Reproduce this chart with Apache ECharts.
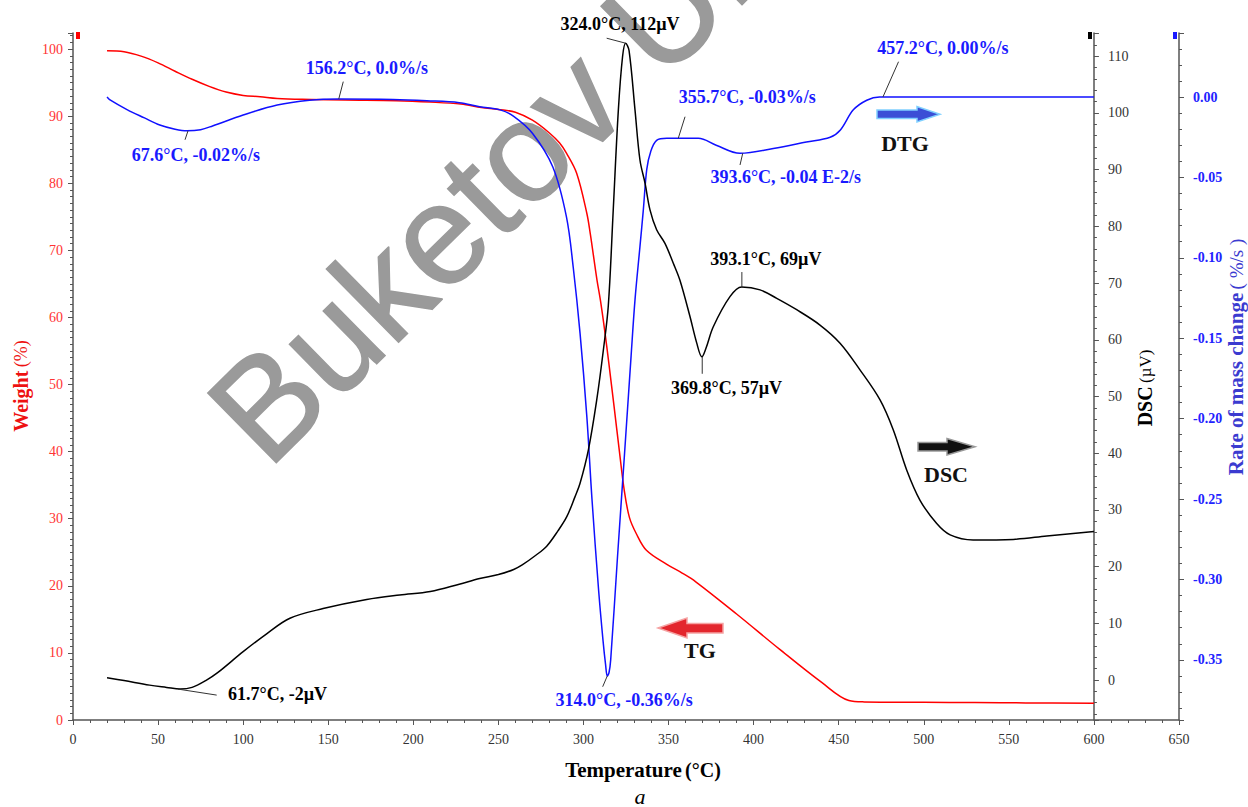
<!DOCTYPE html>
<html><head><meta charset="utf-8">
<script src="https://cdn.jsdelivr.net/npm/echarts@6/dist/echarts.min.js"></script>
<style>html,body{margin:0;padding:0;background:#fff}#c{width:1248px;height:807px}</style>
</head><body><div id="c"></div>
<script>
// ---------- DATA ----------
const tgTemp = [20,30,40,50,60,70,80,90,100,110,120,140,160,190,210,228,240,250,260,270,280,286,290,296,302,304,306,308,310,312.5,315,318,321,324,327,331,337,349,358,366,390,415,440,456,465,500,530,560,600];
const tgWeight = [99.75,99.6,98.95,97.95,96.7,95.5,94.45,93.6,93.1,92.9,92.65,92.5,92.4,92.3,92.1,91.8,91.3,91.0,90.6,89.4,87.5,86.0,84.5,81.5,75.5,72.5,69.0,65.5,62.5,58.0,53.0,46.7,40.3,34.2,30.2,27.8,25.3,23.2,21.9,20.6,15.8,10.6,5.6,2.9,2.7,2.65,2.6,2.55,2.5];

const dscTemp = [20,30,45,55,63,70,78,85,100,114,127.5,147,172.6,192,210,227,239,250,259,264,272,278.4,285,290.2,295,298,302.9,307.8,311.7,314.6,317.5,320.5,323,324.8,326.8,330.3,333.2,336.2,339.1,343,347.9,352.8,356.7,362.6,366.5,369.6,372,376.3,386.1,393,403.8,413.6,425.3,439,450.8,462.5,474.3,482.1,490,497.8,507.6,515.5,529,552.6,572.3,600];
const dscValue = [0.4,-0.1,-0.9,-1.3,-1.6,-1.3,-0.1,1.3,5.0,8.2,10.9,12.6,14.2,15.0,15.6,16.9,17.9,18.6,19.5,20.3,22.0,23.6,26.3,28.8,32.3,34.7,40.6,49.4,58.2,66.0,82.9,100.5,110,112.3,111,100.5,91.7,87.6,82.9,79.4,77.0,73.5,70.5,64.1,59.5,57.0,58.5,62.3,67.6,69.3,68.8,67.3,65.3,62.6,59.4,54.7,49.4,44.1,37.0,31.7,27.6,25.6,24.7,24.8,25.4,26.2];

const dtgTemp = [20,22,32,42,51,60,67,75,82,100,120,139,156,188,208,227,239,251,259,270,282,290,294,298,302,305,309,311.5,313,314,315,316,320,324,328,330.3,333.2,335.2,337.2,339.5,343,349,367.5,378,392,411.6,431,445,451,458.6,466.5,474,600];
const dtgRate = [0.000,-0.002,-0.008,-0.013,-0.0174,-0.020,-0.021,-0.0203,-0.018,-0.0112,-0.005,-0.002,-0.0012,-0.0015,-0.0023,-0.0035,-0.006,-0.008,-0.012,-0.0225,-0.0435,-0.0745,-0.106,-0.147,-0.199,-0.250,-0.308,-0.338,-0.353,-0.360,-0.358,-0.350,-0.286,-0.224,-0.161,-0.126,-0.093,-0.070,-0.045,-0.034,-0.027,-0.0257,-0.0257,-0.030,-0.035,-0.032,-0.028,-0.025,-0.0205,-0.008,-0.002,0.000,0.000];

// axis ranges
const xRange = [0, 650];
const weightRange = [0, 102.4];
const dscRange = [-7.05, 114.1];
const dtgRange = [-0.3874, 0.0398];

// annotations (text, axis index: 1 = DSC, 2 = DTG, anchor temperature / value)
const annotText = ["324.0°C, 112µV","156.2°C, 0.0%/s","67.6°C, -0.02%/s","314.0°C, -0.36%/s","61.7°C, -2µV","355.7°C, -0.03%/s","393.6°C, -0.04 E-2/s","457.2°C, 0.00%/s","393.1°C, 69µV","369.8°C, 57µV"];
const annotAxis = [1,2,2,2,1,2,2,2,1,1];
const annotTemp = [324.8,156.2,67.6,314.0,61.7,355.7,393.6,476,393.1,369.8];
const annotValue = [112.3,-0.0012,-0.021,-0.36,-1.6,-0.0257,-0.035,0.0,69.3,57.0];

// ---------- LAYOUT / STYLE ----------
const annotLayout = [
  {lx:-19,ly:-5,tx:-5.7,ty:-19.3},
  {lx:4.5,ly:-17.3,tx:28,ty:-31},
  {lx:-3,ly:9,tx:7.8,ty:24.2},
  {lx:-4.6,ly:10.8,tx:16.9,ty:24},
  {lx:38.7,ly:6,tx:99.5,ty:5},
  {lx:6.8,ly:-21.6,tx:69,ty:-41},
  {lx:-2.7,ly:11.7,tx:43,ty:24},
  {lx:15.6,ly:-35.3,tx:60,ty:-49.5},
  {lx:0,ly:-15,tx:24,ty:-28},
  {lx:0,ly:17,tx:24.3,ty:31.2}
];
const SERIF = '"Liberation Serif", "Times New Roman", serif';
const RED = '#ff0000', BLUE = '#1a1aff', BLACK = '#000000';
const G = {left:73, right:69, top:33, bottom:87};
const gridW = 1248 - G.left - G.right;
const dscOffset = -gridW * (xRange[1] - 600) / (xRange[1] - xRange[0]);

function pairs(xs, ys){ return xs.map((x,i)=>[x, ys[i]]); }

const axisLineStyle = {lineStyle:{color:'#555', width:1.5}};
const chart = echarts.init(document.getElementById('c'), null, {renderer:'svg'});
const option = {
  animation:false,
  backgroundColor:'#fff',
  grid:{left:G.left, right:G.right, top:G.top, bottom:G.bottom},
  xAxis:{
    type:'value', min:xRange[0], max:xRange[1], interval:50,
    axisLine:axisLineStyle,
    axisTick:{show:true, length:5, lineStyle:{color:'#555'}},
    minorTick:{show:true, splitNumber:5, length:3, lineStyle:{color:'#555'}},
    splitLine:{show:false},
    axisLabel:{color:'#333', fontFamily:SERIF, fontSize:14, margin:12}
  },
  yAxis:[
    {type:'value', position:'left', min:weightRange[0], max:weightRange[1], interval:10,
     axisLine:{show:true, lineStyle:{color:'#555', width:1.5}},
     axisTick:{show:true, length:5, lineStyle:{color:'#555'}},
     minorTick:{show:true, splitNumber:10, length:3, lineStyle:{color:'#555'}},
     splitLine:{show:false},
     axisLabel:{color:'#ff3333', fontFamily:SERIF, fontSize:14, margin:10, showMaxLabel:false}
    },
    {type:'value', position:'right', offset:dscOffset, min:dscRange[0], max:dscRange[1],
     minInterval:10, maxInterval:10, splitNumber:12,
     axisLine:{show:true, onZero:false, lineStyle:{color:'#555', width:1.5}},
     axisTick:{show:true, length:5, lineStyle:{color:'#555'}},
     minorTick:{show:true, splitNumber:5, length:3, lineStyle:{color:'#555'}},
     splitLine:{show:false},
     axisLabel:{color:'#333', fontFamily:SERIF, fontSize:14, margin:14, showMinLabel:false, showMaxLabel:false}
    },
    {type:'value', position:'right', offset:0, min:dtgRange[0], max:dtgRange[1],
     minInterval:0.05, maxInterval:0.05, splitNumber:9,
     axisLine:{show:true, onZero:false, lineStyle:{color:'#555', width:1.5}},
     axisTick:{show:true, length:5, lineStyle:{color:'#555'}},
     minorTick:{show:true, splitNumber:5, length:3, lineStyle:{color:'#555'}},
     splitLine:{show:false},
     axisLabel:{color:'#2222ff', fontFamily:SERIF, fontSize:14, fontWeight:'bold', margin:14, showMinLabel:false, showMaxLabel:false,
       formatter:v=>v.toFixed(2)}
    }
  ],
  series:[
    {name:'TG', type:'line', yAxisIndex:0, data:pairs(tgTemp, tgWeight), showSymbol:false, smooth:0.35,
     lineStyle:{color:RED, width:1.5}, itemStyle:{color:RED}, z:3},
    {name:'DTG', type:'line', yAxisIndex:2, data:pairs(dtgTemp, dtgRate), showSymbol:false, smooth:0.35,
     lineStyle:{color:'#1010ff', width:1.5}, itemStyle:{color:'#1010ff'}, z:3},
    {name:'DSC', type:'line', yAxisIndex:1, data:pairs(dscTemp, dscValue), showSymbol:false, smooth:0.35,
     lineStyle:{color:BLACK, width:1.5}, itemStyle:{color:BLACK}, z:4}
  ]
};
chart.setOption(option);

function txt(x, y, text, font, fill, extra){
  return Object.assign({type:'text', x:x, y:y, z:20,
    style:{text:text, font:font, fill:fill, textAlign:'center', align:'center', textVerticalAlign:'middle', verticalAlign:'middle'}}, extra||{});
}
function poly(points, fill, stroke){
  return {type:'polygon', z:20, shape:{points:points}, style:{fill:fill, stroke:stroke, lineWidth:1.5}};
}

const graphics = [];
// watermark
graphics.push({type:'text', x:283, y:486, z:1, rotation:44.5*Math.PI/180,
  style:{text:'Buketov University', font:'142px "Liberation Sans", Arial, sans-serif', fill:'#9a9a9a',
         stroke:'#9a9a9a', lineWidth:1.5,
         textAlign:'left', align:'left', textVerticalAlign:'bottom', verticalAlign:'bottom'}});

// annotations anchored on the data scales
annotText.forEach((t,i)=>{
  const p = chart.convertToPixel({xAxisIndex:0, yAxisIndex:annotAxis[i]}, [annotTemp[i], annotValue[i]]);
  const L = annotLayout[i];
  graphics.push({type:'line', z:20, shape:{x1:p[0], y1:p[1], x2:p[0]+L.lx, y2:p[1]+L.ly}, style:{stroke:'#333', lineWidth:1}});
  graphics.push(txt(p[0]+L.tx, p[1]+L.ty, t, 'bold 18px ' + SERIF, annotAxis[i]===2 ? BLUE : BLACK));
});

// curve arrows
graphics.push(poly([[658,628],[687,618],[687,623.5],[723,623.5],[723,633],[687,633],[687,638]], '#e3262d', '#f5a3a3'));
graphics.push(txt(700, 650, 'TG', 'bold 22px ' + SERIF, '#111'));
graphics.push(poly([[877,110],[917,110],[917,106.5],[940,114.3],[917,122],[917,118.5],[877,118.5]], '#3b4fd6', '#80d0ff'));
graphics.push(txt(905, 143, 'DTG', 'bold 22px ' + SERIF, '#111'));
graphics.push(poly([[918,442.5],[947,442.5],[947,438.5],[975,446.7],[947,455],[947,451],[918,451]], '#111', '#999'));
graphics.push(txt(946, 474, 'DSC', 'bold 22px ' + SERIF, '#111'));

// axis top markers
graphics.push({type:'rect', z:20, shape:{x:76, y:32, width:4, height:7}, style:{fill:'#ff0000'}});
graphics.push({type:'rect', z:20, shape:{x:1088, y:32, width:4, height:7}, style:{fill:'#000'}});
graphics.push({type:'rect', z:20, shape:{x:1173, y:32, width:4, height:7}, style:{fill:'#1a1aff'}});

// axis names
graphics.push(txt(21, 386, '', '', '#ee1111', {rotation:Math.PI/2,
  style:{text:'{b|Weight} {n|(%)}', textAlign:'center', align:'center', textVerticalAlign:'middle', verticalAlign:'middle',
    rich:{b:{font:'bold 20px ' + SERIF, fill:'#ee1111'}, n:{font:'18px ' + SERIF, fill:'#ee1111'}}}}));
graphics.push(txt(1145, 388, '', '', '#000', {rotation:Math.PI/2,
  style:{text:'{b|DSC} {n|(µV)}', textAlign:'center', align:'center', textVerticalAlign:'middle', verticalAlign:'middle',
    rich:{b:{font:'bold 20px ' + SERIF, fill:'#000'}, n:{font:'17px ' + SERIF, fill:'#000'}}}}));
graphics.push(txt(1236, 357, '', '', '#3b3bd0', {rotation:Math.PI/2,
  style:{text:'{b|Rate of mass change} {n|( %/s )}', textAlign:'center', align:'center', textVerticalAlign:'middle', verticalAlign:'middle',
    rich:{b:{font:'bold 21px ' + SERIF, fill:'#3b3bd0'}, n:{font:'19px ' + SERIF, fill:'#3b3bd0'}}}}));
graphics.push(txt(643, 770, '', '', '#000', {
  style:{text:'{b|Temperature} {n|(°C)}', textAlign:'center', align:'center', textVerticalAlign:'middle', verticalAlign:'middle',
    rich:{b:{font:'bold 21px ' + SERIF, fill:'#000'}, n:{font:'bold 20px ' + SERIF, fill:'#000'}}}}));
graphics.push(txt(640, 796, 'a', 'italic 22px ' + SERIF, '#000'));

chart.setOption({graphic:{elements:graphics}});
</script></body></html>
